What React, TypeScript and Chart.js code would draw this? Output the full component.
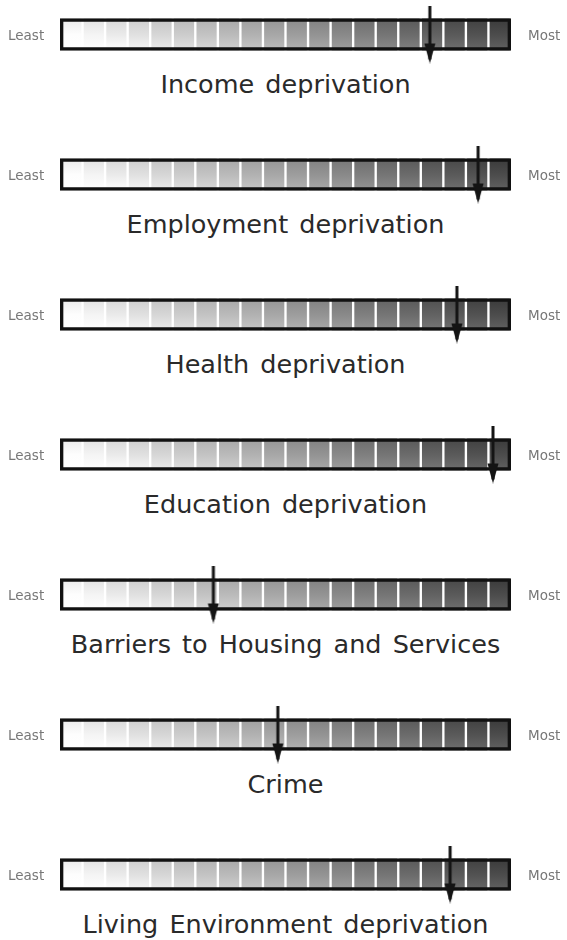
import React, { useEffect, useRef } from "react";
import { Chart, registerables } from "chart.js";

Chart.register(...registerables);

// ---- data ----
const indicators = [
  "Income deprivation",
  "Employment deprivation",
  "Health deprivation",
  "Education deprivation",
  "Barriers to Housing and Services",
  "Crime",
  "Living Environment deprivation",
];
// arrow position on a 0 (least deprived) .. 100 (most deprived) scale
const scores = [82, 92.7, 88, 96, 34, 48.3, 86.5];
// grey level of each of the 20 scale segments, least -> most
const segmentShades = [253, 244, 234, 224, 214, 204, 195, 186, 177, 167, 157, 147, 137, 127, 117, 107, 98, 90, 82, 76];
const scaleEnds = ["Least", "Most"];
const SEGMENT_SIZE = 100 / segmentShades.length;

const ROW_H = 140;
const CANVAS_H = 69;
const BAR_T = 32;

function makeArrow(): HTMLCanvasElement {
  const c = document.createElement("canvas");
  c.width = 14;
  c.height = 58;
  const g = c.getContext("2d")!;
  g.fillStyle = "#141414";
  g.fillRect(5.5, 0, 3, 54);
  g.beginPath();
  g.moveTo(1.5, 38);
  g.lineTo(12.5, 38);
  g.lineTo(7, 58);
  g.closePath();
  g.fill();
  return c;
}

function grey(v: number) {
  const c = Math.max(0, Math.min(255, Math.round(v)));
  return `rgb(${c},${c},${c})`;
}

function Row({ label, score, top }: { label: string; score: number; top: number }) {
  const ref = useRef<HTMLCanvasElement>(null);
  useEffect(() => {
    const arrow = makeArrow();
    const segDatasets = segmentShades.map((s, i) => ({
      type: "bar" as const,
      label: `segment ${i + 1}`,
      data: [SEGMENT_SIZE],
      stack: "scale",
      order: 2,
      backgroundColor: (ctx: any) => {
        const area = ctx.chart.chartArea;
        if (!area) return grey(s);
        const mid = (area.top + area.bottom) / 2;
        const gr = ctx.chart.ctx.createLinearGradient(0, mid - BAR_T / 2, 0, mid + BAR_T / 2);
        gr.addColorStop(0, grey(s - 18));
        gr.addColorStop(0.5, grey(s));
        gr.addColorStop(1, grey(s + 22));
        return gr;
      },
      borderColor: "#ffffff",
      borderWidth: { left: 1.5, right: 1.5, top: 0, bottom: 0 },
      borderSkipped: false,
      barThickness: BAR_T,
    }));
    const chart = new Chart(ref.current!, {
      type: "bar",
      data: {
        labels: [label],
        datasets: [
          ...segDatasets,
          {
            type: "bar",
            label: "frame",
            data: [100],
            stack: "frame",
            grouped: false,
            order: 1,
            backgroundColor: "rgba(0,0,0,0)",
            borderColor: "#111111",
            borderWidth: 3,
            borderSkipped: false,
            barThickness: BAR_T,
          },
          {
            type: "scatter",
            label: "position",
            data: [{ x: score, y: label }],
            stack: "arrow",
            order: 0,
            pointStyle: arrow,
            pointRadius: 7,
            pointHoverRadius: 7,
          },
        ] as any,
      },
      options: {
        indexAxis: "y",
        responsive: false,
        animation: false,
        events: [],
        layout: { padding: { left: 60, right: 56, top: 0, bottom: 0 } },
        plugins: { legend: { display: false }, tooltip: { enabled: false }, title: { display: false } },
        scales: {
          x: { type: "linear", min: 0, max: 100, stacked: true, display: false },
          y: { type: "category", stacked: true, display: false },
        },
      } as any,
    });
    return () => chart.destroy();
  }, [label, score]);

  const small: React.CSSProperties = {
    position: "absolute",
    top: 27,
    fontFamily: "'DejaVu Sans', sans-serif",
    fontSize: 13.5,
    lineHeight: "16px",
    color: "#777",
  };
  return (
    <div style={{ position: "absolute", left: 0, top, width: 567, height: ROW_H }}>
      <canvas ref={ref} width={567} height={CANVAS_H} style={{ position: "absolute", left: 0, top: 0, width: 567, height: CANVAS_H }} />
      <div style={{ ...small, left: 8 }}>{scaleEnds[0]}</div>
      <div style={{ ...small, left: 528 }}>{scaleEnds[1]}</div>
      <div
        style={{
          position: "absolute",
          left: 0,
          width: 571,
          top: 69,
          textAlign: "center",
          fontFamily: "'DejaVu Sans', sans-serif",
          fontSize: 25.5,
          lineHeight: "30px",
          wordSpacing: 3,
          color: "#2a2a2a",
          whiteSpace: "nowrap",
        }}
      >
        {label}
      </div>
    </div>
  );
}

export default function App() {
  return (
    <div style={{ position: "absolute", left: 0, top: 0, width: 567, height: 940, background: "#fff", overflow: "hidden" }}>
      {indicators.map((name, i) => (
        <Row key={name} label={name} score={scores[i]} top={i * ROW_H} />
      ))}
    </div>
  );
}
